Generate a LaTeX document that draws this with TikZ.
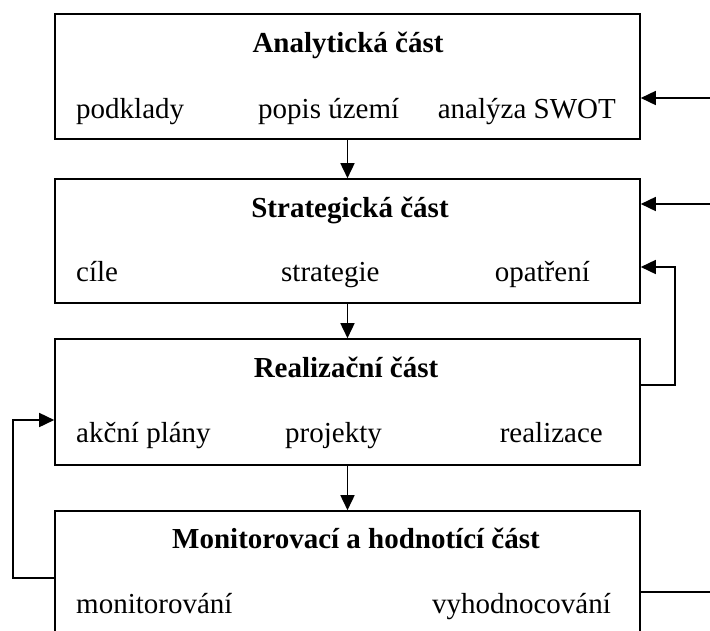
\documentclass[tikz,border=0pt]{standalone}
\usepackage{fontspec}
\setmainfont{Liberation Serif}
\usetikzlibrary{arrows.meta}

\tikzset{
  part/.style={draw, line width=1.6pt, minimum width=585pt, inner sep=0pt},
  head/.style={font=\fontsize{29}{32}\selectfont\bfseries, inner sep=0pt, anchor=base},
  item/.style={font=\fontsize{29}{32}\selectfont, inner sep=0pt},
  flow/.style={line width=1.6pt, -{Triangle[length=15pt,width=14pt]}},
  link/.style={line width=1.6pt}
}

\begin{document}
\begin{tikzpicture}[x=1pt,y=-1pt]

    \useasboundingbox (0,0) rectangle (710,630);

    % the four parts
    \node[part, minimum height=125pt] (P1) at (347.5,76.5) {};
    \node[part, minimum height=124pt] (P2) at (347.5,241) {};
    \node[part, minimum height=126pt] (P3) at (347.5,402) {};
    \node[part, minimum height=160pt] (P4) at (347.5,591) {};

    \node[head] (H1) at (348,52) {Analytická část};
    \node[item, anchor=base west] (A1) at (76,118) {podklady};
    \node[item, anchor=base west] (A2) at (258,118) {popis území};
    \node[item, anchor=base east] (A3) at (616,118) {analýza SWOT};

    \node[head] (H2) at (350,217) {Strategická část};
    \node[item, anchor=base west] (S1) at (76,281) {cíle};
    \node[item, anchor=base west] (S2) at (281,281) {strategie};
    \node[item, anchor=base east] (S3) at (590,281) {opatření};

    \node[head] (H3) at (346,377) {Realizační část};
    \node[item, anchor=base west] (R1) at (76,442) {akční plány};
    \node[item, anchor=base west] (R2) at (285,442) {projekty};
    \node[item, anchor=base east] (R3) at (603,442) {realizace};

    \node[head] (H4) at (356,548) {Monitorovací a hodnotící část};
    \node[item, anchor=base west] (M1) at (76,613) {monitorování};
    \node[item, anchor=base east] (M2) at (611,613) {vyhodnocování};

    \coordinate (in1) at (710,98);
    \coordinate (in2) at (710,204);
    \coordinate (turn) at (675,267);
    \coordinate (up) at (675,385);
    \coordinate (back) at (13,578);
    \coordinate (turn2) at (13,420);
    \coordinate (out4) at (710,592);

    \draw[flow] (P1) -- (P2);
    \draw[flow] (P2) -- (P3);
    \draw[flow] (P3) -- (P4);
    \draw[flow] (in1) -- (in1 -| P1.east);
    \draw[flow] (in2) -- (in2 -| P2.east);
    \draw[flow] (up -| P3.east) -- (up) -- (turn) -- (turn -| P2.east);
    \draw[flow] (back -| P4.west) -- (back) -- (turn2) -- (turn2 -| P3.west);
    \draw[link] (out4 -| P4.east) -- (out4);

\end{tikzpicture}
\end{document}
